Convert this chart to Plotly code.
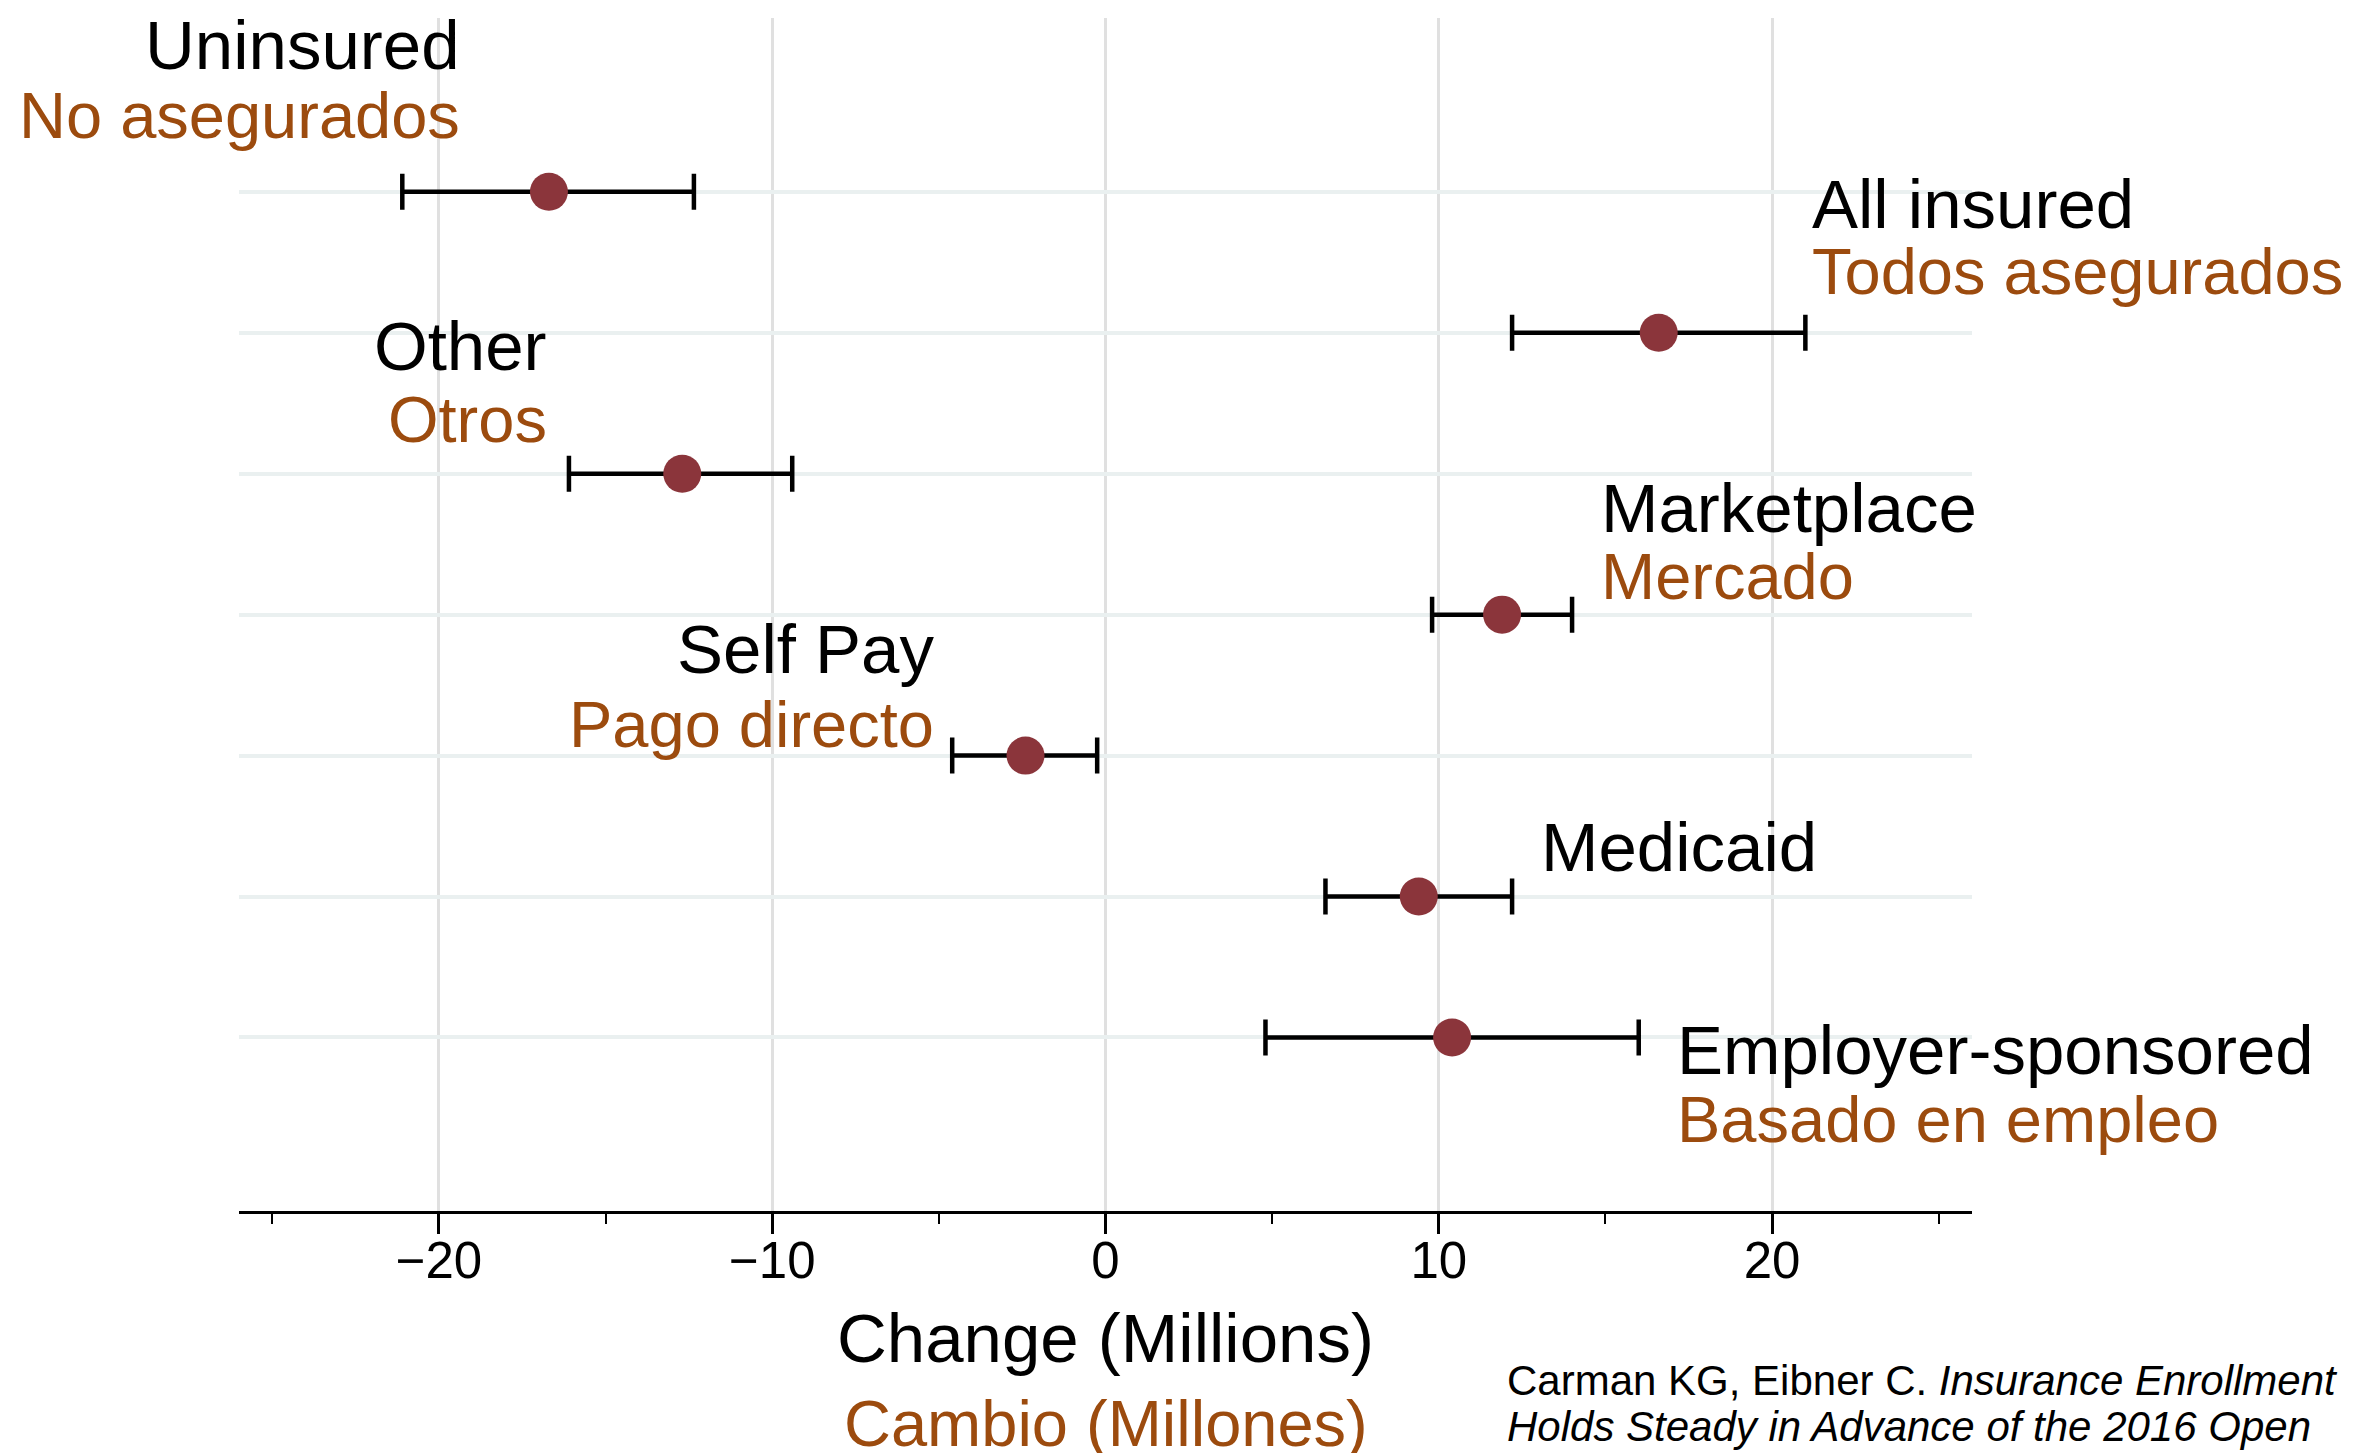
import plotly.graph_objects as go

# ---- data ----
categories = ["Uninsured", "All insured", "Other", "Marketplace", "Self Pay", "Medicaid", "Employer-sponsored"]
categories_es = ["No asegurados", "Todos asegurados", "Otros", "Mercado", "Pago directo", "", "Basado en empleo"]
estimate = [-16.7, 16.6, -12.7, 11.9, -2.4, 9.4, 10.4]
lower = [-21.1, 12.2, -16.1, 9.8, -4.6, 6.6, 4.8]
upper = [-12.35, 21.0, -9.4, 14.0, -0.25, 12.2, 16.0]
rows = [7, 6, 5, 4, 3, 2, 1]
x_ticks = [-20, -10, 0, 10, 20]
citation_lines = ["Carman KG, Eibner C. <i>Insurance Enrollment</i>",
                  "<i>Holds Steady in Advance of the 2016 Open</i>"]

# ---- label layout (anchor x in data units, side, pixel shifts) ----
label_x = [-19.3, 21.15, -16.7, 14.8, -5.1, 13.0, 17.1]
label_side = ["right", "left", "right", "left", "right", "left", "left"]
shift_en = [146, 128, 127, 106, 106, 49, -13]
shift_es = [76, 61, 54, 38, 31, 0, -82]

BLACK = "#000000"
BROWN = "#9C4B0E"
DOT = "#8B353B"
FONT = "Liberation Sans, Arial, Helvetica, sans-serif"

fig = go.Figure()
fig.add_trace(go.Scatter(
    x=estimate, y=rows, mode="markers",
    marker=dict(size=38, color=DOT, line=dict(width=0)),
    error_x=dict(type="data", symmetric=False,
                 array=[u - e for u, e in zip(upper, estimate)],
                 arrayminus=[e - l for e, l in zip(estimate, lower)],
                 color=BLACK, thickness=4.5, width=18),
    showlegend=False, hoverinfo="skip",
))

ann = []
for i, name in enumerate(categories):
    ann.append(dict(x=label_x[i], y=rows[i], xref="x", yref="y", text=name,
                    showarrow=False, xanchor=label_side[i], yanchor="middle",
                    yshift=shift_en[i], font=dict(family=FONT, size=69, color=BLACK)))
    if categories_es[i]:
        ann.append(dict(x=label_x[i], y=rows[i], xref="x", yref="y", text=categories_es[i],
                        showarrow=False, xanchor=label_side[i], yanchor="middle",
                        yshift=shift_es[i], font=dict(family=FONT, size=65, color=BROWN)))

# axis titles (two languages)
ann.append(dict(x=0, y=0, xref="x", yref="paper", text="Change (Millions)", showarrow=False,
                xanchor="center", yanchor="middle", yshift=-127,
                font=dict(family=FONT, size=69, color=BLACK)))
ann.append(dict(x=0, y=0, xref="x", yref="paper", text="Cambio (Millones)", showarrow=False,
                xanchor="center", yanchor="middle", yshift=-212,
                font=dict(family=FONT, size=65, color=BROWN)))
# citation
cit_shift = [-169, -215]
for line, ys in zip(citation_lines, cit_shift):
    ann.append(dict(x=(1505 - 239) / 1733, y=0, xref="paper", yref="paper", text=line,
                    showarrow=False, xanchor="left", yanchor="middle", yshift=ys,
                    font=dict(family=FONT, size=42, color=BLACK)))

fig.update_layout(
    width=2368, height=1453,
    margin=dict(l=231, r=404, t=10, b=250),
    paper_bgcolor="white", plot_bgcolor="white",
    annotations=ann,
    xaxis=dict(range=[-26, 26], tickvals=x_ticks, showgrid=True, gridcolor="#E0E0E0",
               gridwidth=3, zeroline=False, showline=True, linecolor=BLACK, linewidth=3,
               ticks="outside", ticklen=20, tickwidth=2.5, tickcolor=BLACK,
               ticklabelstandoff=-17,
               tickfont=dict(family=FONT, size=51, color=BLACK),
               minor=dict(dtick=5, tick0=0, ticks="outside", ticklen=10, tickwidth=2,
                          tickcolor=BLACK, showgrid=False)),
    yaxis=dict(range=[-0.231, 8.233], tickvals=rows, showticklabels=False, showgrid=True,
               gridcolor="#EAF0F0", gridwidth=4, zeroline=False, showline=False, ticks=""),
)

fig.write_html("out.html")
